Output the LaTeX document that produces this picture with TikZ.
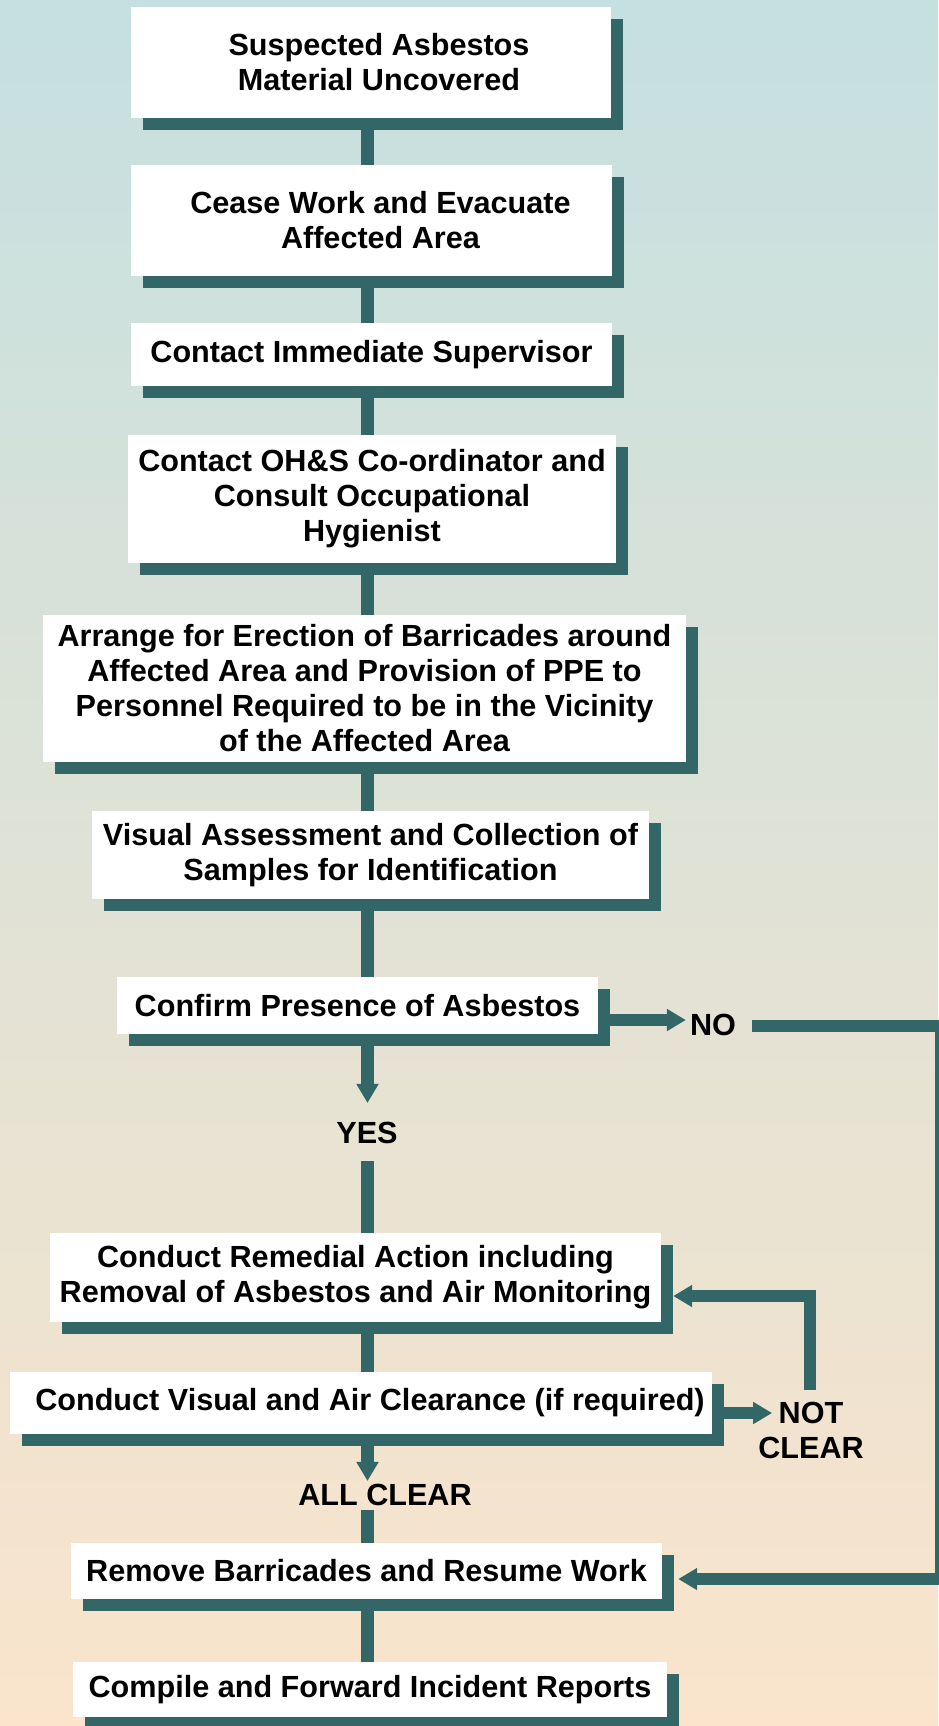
\documentclass[tikz,border=0pt]{standalone}
\usepackage{fontspec}
\setmainfont{Liberation Sans}
\usetikzlibrary{arrows.meta,calc,shadows}
\pgfdeclarelayer{bgzero}
\pgfdeclarelayer{bgone}
\pgfsetlayers{bgzero,bgone,main}
\definecolor{tealdark}{RGB}{51,102,102}
\definecolor{bgtop}{RGB}{197,224,224}
\definecolor{bgmid}{RGB}{224,226,214}
\definecolor{bgbot}{RGB}{250,228,204}
\newcommand{\txtfont}{\fontsize{30.6pt}{35pt}\selectfont\bfseries}
\begin{document}
\begin{tikzpicture}[x=1pt,y=-1pt,
  stepbox/.style={fill=white, inner sep=0pt, align=center, font=\txtfont,
     general shadow={shadow xshift=12pt, shadow yshift=-12pt, fill=tealdark}},
  lbl/.style={inner sep=0pt, align=center, font=\txtfont},
  conn/.style={draw=tealdark, line width=13pt},
  branch/.style={draw=tealdark, line width=11.5pt, line join=miter},
  arr/.style={-{Triangle[length=19pt,width=21pt]}}]

\useasboundingbox (0,0) rectangle (938,1726);
\begin{pgfonlayer}{bgzero}
\shade[top color=bgtop, middle color=bgmid, bottom color=bgbot] (0,0) rectangle (938,1726);
\end{pgfonlayer}

\coordinate (cx) at (367.5,0);

\node[stepbox, minimum width=480pt, minimum height=111pt] (b1) at (371,62.5)
  {\hspace*{16pt}Suspected Asbestos\\\hspace*{16pt}Material Uncovered};
\node[stepbox, minimum width=481pt, minimum height=111pt] (b2) at (371.5,220.5)
  {\hspace*{18pt}Cease Work and Evacuate\\\hspace*{18pt}Affected Area};
\node[stepbox, minimum width=481pt, minimum height=63pt] (b3) at (371.5,354.5)
  {Contact Immediate Supervisor};
\node[stepbox, minimum width=488pt, minimum height=128pt] (b4) at (372,499)
  {Contact OH\&S Co-ordinator and\\Consult Occupational\\Hygienist};
\node[stepbox, minimum width=643pt, minimum height=147pt] (b5) at (364.5,688.5)
  {Arrange for Erection of Barricades around\\Affected Area and Provision of PPE to\\Personnel Required to be in the Vicinity\\of the Affected Area};
\node[stepbox, minimum width=557pt, minimum height=88pt] (b6) at (370.5,855)
  {Visual Assessment and Collection of\\Samples for Identification};
\node[stepbox, minimum width=481pt, minimum height=57pt] (b7) at (357.5,1005.5)
  {Confirm Presence of Asbestos};
\node[lbl] (yes) at (367,1133) {YES};
\node[stepbox, minimum width=611pt, minimum height=89pt] (b8) at (355.5,1277.5)
  {Conduct Remedial Action including\\Removal of Asbestos and Air Monitoring};
\node[stepbox, minimum width=702pt, minimum height=62pt] (b9) at (361,1403)
  {\hspace*{18pt}Conduct Visual and Air Clearance (if required)};
\node[lbl] (allclear) at (385,1495) {ALL CLEAR};
\node[stepbox, minimum width=591pt, minimum height=56pt] (b10) at (366.5,1571)
  {Remove Barricades and Resume Work};
\node[stepbox, minimum width=594pt, minimum height=55pt] (b11) at (370,1689.5)
  {Compile and Forward Incident Reports};
\node[lbl] (no) at (713,1025) {NO};
\node[lbl] (notclear) at (811,1430) {NOT\\CLEAR};

\coordinate (noy) at (0,1020);
\coordinate (redge) at (941,1026);
\coordinate (ry) at (0,1579);
\coordinate (ncy) at (0,1413);
\coordinate (loopx) at (810,0);
\coordinate (loopy) at (0,1296);

\begin{pgfonlayer}{bgone}
\draw[conn] (b1.south -| cx) -- (b2.north -| cx);
\draw[conn] (b2.south -| cx) -- (b3.north -| cx);
\draw[conn] (b3.south -| cx) -- (b4.north -| cx);
\draw[conn] (b4.south -| cx) -- (b5.north -| cx);
\draw[conn] (b5.south -| cx) -- (b6.north -| cx);
\draw[conn] (b6.south -| cx) -- (b7.north -| cx);
\draw[conn, arr, shorten >=19pt] (b7.south -| cx) -- (yes.north -| cx);
\draw[conn] (yes.south -| cx) ++(0,17) -- (b8.north -| cx);
\draw[conn] (b8.south -| cx) -- (b9.north -| cx);
\draw[conn, arr, shorten >=3pt] (b9.south -| cx) -- (allclear.north -| cx);
\draw[conn] (allclear.south -| cx) ++(0,4) -- (b10.north -| cx);
\draw[conn] (b10.south -| cx) -- (b11.north -| cx);

\draw[branch, arr] (b7.east |- noy) -- ($(no.west |- noy)+(-4,0)$);
\draw[branch, arr] ($(no.east |- redge)+(16,0)$) -- (redge) |- ($(b10.east |- ry)+(16,0)$);
\draw[branch, arr] (b9.east |- ncy) -- ($(notclear.west |- ncy)+(14,0)$);
\draw[branch, arr] ($(notclear.north -| loopx)+(0,-11)$) -- (loopx |- loopy) -- ($(b8.east |- loopy)+(12,0)$);
\end{pgfonlayer}
\end{tikzpicture}
\end{document}
